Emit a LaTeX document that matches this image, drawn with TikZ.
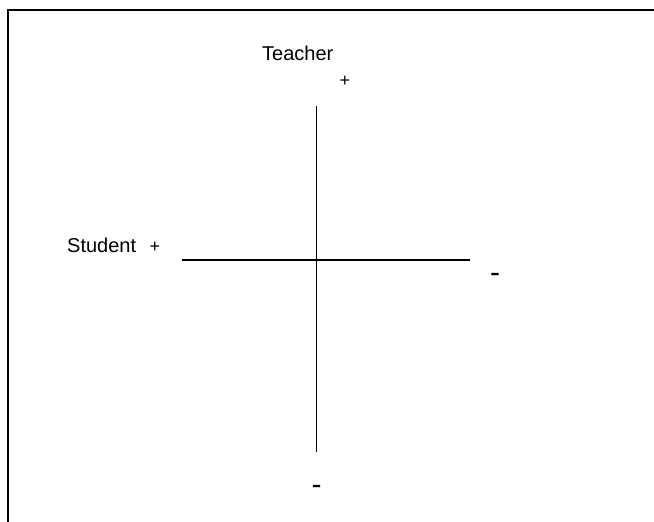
\documentclass[tikz,border=0pt]{standalone}
\usepackage{fontspec}
\setmainfont{Liberation Sans}
\begin{document}
\begin{tikzpicture}[x=1pt,y=-1pt,
  lbl/.style={inner sep=0pt,font=\fontsize{20}{24}\selectfont},
  pluslbl/.style={inner sep=0pt,font=\fontsize{18}{22}\selectfont},
  minuslbl/.style={inner sep=0pt,font=\fontsize{30}{36}\selectfont},
  axisline/.style={line width=1.6pt},
  frameline/.style={line width=2pt}]
\useasboundingbox (0,0) rectangle (654,522);
\begin{scope}
\clip (0,0) rectangle (654,522);
\coordinate (fTL) at (8,10);
\coordinate (fTR) at (660,10);
\coordinate (fBL) at (8,530);
\draw[frameline] (fTR) -- (fTL) -- (fBL);
\end{scope}
\coordinate (vtop) at (316.5,106);
\coordinate (vbot) at (316.5,452);
\coordinate (hleft) at (182,260);
\coordinate (hright) at (470,260);
\draw[axisline] (vtop) -- (vbot);
\draw[axisline] (hleft) -- (hright);
\node[lbl,anchor=base west] (teacher) at (262,60) {Teacher};
\node[pluslbl,anchor=base] (tplus) at (345,86.5) {+};
\node[lbl,anchor=base west] (student) at (67,252.5) {Student};
\node[pluslbl,anchor=base] (splus) at (155,252.5) {+};
\node[minuslbl,anchor=base] (rminus) at (495,282.4) {-};
\node[minuslbl,anchor=base] (bminus) at (316.5,494.4) {-};
\end{tikzpicture}
\end{document}
